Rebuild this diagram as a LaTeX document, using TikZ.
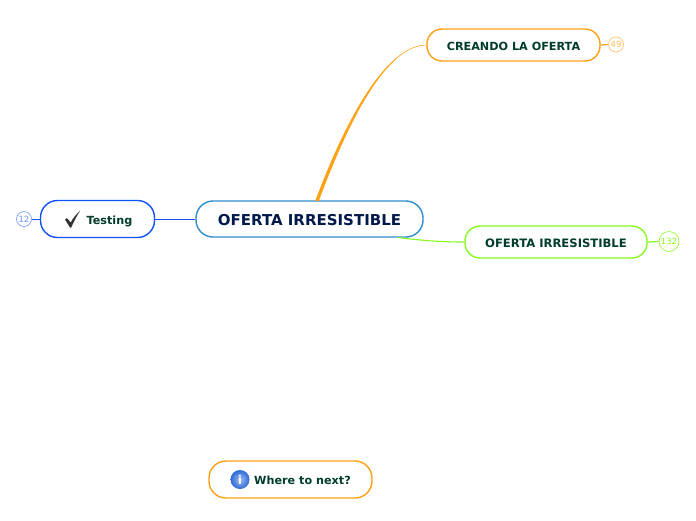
\documentclass[tikz,border=0pt]{standalone}
\usepackage{fontspec}
\setmainfont{DejaVu Sans}
\usepackage{xcolor}
\definecolor{centralblue}{RGB}{44, 142, 208}
\definecolor{testblue}{RGB}{15, 82, 250}
\definecolor{branchorange}{RGB}{255, 160, 20}
\definecolor{branchgreen}{RGB}{135, 250, 30}
\definecolor{navytext}{RGB}{0, 25, 75}
\definecolor{greentext}{RGB}{0, 60, 45}
\definecolor{infoblue}{RGB}{45, 105, 215}
\tikzset{
    topicbox/.style={draw, line width=1.4pt, fill=white, rounded corners=15pt, minimum height=32pt, inner sep=0pt, text height=10pt, text depth=0pt, font=\bfseries\fontsize{11.2}{13}\selectfont, text=greentext},
    countbadge/.style={circle, draw, fill=white, inner sep=0pt, line width=0.6pt, font=\fontsize{8.5}{10}\selectfont}
}

\begin{document}
\begin{tikzpicture}[x=1pt, y=-1pt]
        \useasboundingbox (0,0) rectangle (696,520);

        \node[topicbox, draw=centralblue, text=navytext, minimum width=227pt, minimum height=36pt, rounded corners=17pt, text height=13pt, font=\bfseries\fontsize{15}{17}\selectfont] (central) at (309.5,219) {OFERTA IRRESISTIBLE};
        \node[topicbox, draw=branchorange, minimum width=173pt] (creando) at (513.5,45) {CREANDO LA OFERTA};
        \node[topicbox, draw=branchgreen, minimum width=182pt, font=\bfseries\fontsize{11.6}{13}\selectfont] (oferta) at (556,242) {OFERTA IRRESISTIBLE};
        \node[topicbox, draw=testblue, minimum width=114pt, minimum height=37pt, rounded corners=17pt] (testing) at (97.5,219) {\hspace{24pt}Testing};
        \node[topicbox, draw=branchorange, minimum width=163pt, minimum height=37pt, rounded corners=17pt] (next) at (290.5,479.5) {\hspace{24pt}Where to next?};

        \node[countbadge, draw=testblue!60, text=testblue!60, minimum size=15pt] (count12) at (24,219) {12};
        \node[countbadge, draw=branchorange!70, text=branchorange!70, minimum size=15pt] (count49) at (616,44.5) {49};
        \node[countbadge, draw=branchgreen, text=branchgreen, minimum size=20pt] (count132) at (669,241.5) {132};

        % icons
        \fill[black!80] (65,219.5) -- (67,218.2) -- (70.8,222.5) .. controls (73,218) and (76,214.5) .. (80,211) .. controls (77,215.5) and (74,221) .. (71.2,227.5) -- (70,227.5) -- cycle;
        \node[circle, inner color=infoblue!45, outer color=infoblue, minimum size=19pt, inner sep=0pt, text=white, font=\bfseries\fontsize{12}{12}\selectfont] (infoicon) at (240,479.5) {i};

        \coordinate (orangeleft) at (315.5,201);
        \coordinate (orangeright) at (318.5,201);
        \coordinate (greenroot) at (398,237.5);

        \filldraw[branchorange, line width=0.4pt] (orangeleft) .. controls (345,122) and (385,46) .. (creando.west) .. controls (386,45) and (348,122) .. (orangeright) -- cycle;
        \draw[branchgreen, line width=1.1pt] (greenroot) .. controls (425,241) and (445,242) .. (oferta.west);
        \draw[testblue, line width=0.8pt] (central.west) -- (testing.east);
        \draw[testblue, line width=1pt] (testing.west) -- (count12.east);
        \draw[branchorange, line width=1.2pt] (creando.east) -- (count49.west);
        \draw[branchgreen, line width=1.2pt] (oferta.east) -- (count132.west);
    \end{tikzpicture}
\end{document}
